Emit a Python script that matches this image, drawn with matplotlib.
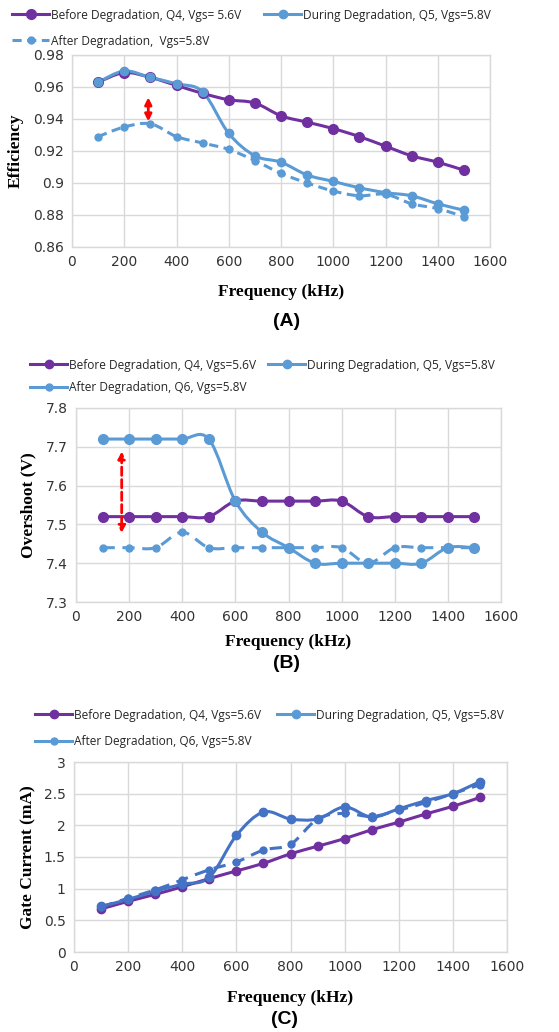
import matplotlib
matplotlib.use("Agg")
import matplotlib.pyplot as plt
from matplotlib.path import Path
from matplotlib.patches import PathPatch, FancyArrowPatch
from matplotlib.lines import Line2D
import numpy as np

freq = [100, 200, 300, 400, 500, 600, 700, 800, 900, 1000, 1100, 1200, 1300, 1400, 1500]

eff_before = [0.963, 0.969, 0.966, 0.961, 0.956, 0.952, 0.950, 0.942, 0.938, 0.934, 0.929, 0.923, 0.917, 0.913, 0.908]
eff_during = [0.963, 0.970, 0.966, 0.962, 0.957, 0.931, 0.917, 0.913, 0.905, 0.901, 0.897, 0.894, 0.892, 0.887, 0.883]
eff_after = [0.929, 0.935, 0.937, 0.929, 0.925, 0.921, 0.914, 0.906, 0.900, 0.895, 0.892, 0.893, 0.887, 0.884, 0.879]

ov_before = [7.52, 7.52, 7.52, 7.52, 7.52, 7.56, 7.56, 7.56, 7.56, 7.56, 7.52, 7.52, 7.52, 7.52, 7.52]
ov_during = [7.72, 7.72, 7.72, 7.72, 7.72, 7.56, 7.48, 7.44, 7.40, 7.40, 7.40, 7.40, 7.40, 7.44, 7.44]
ov_after = [7.44, 7.44, 7.44, 7.48, 7.44, 7.44, 7.44, 7.44, 7.44, 7.44, 7.40, 7.44, 7.44, 7.44, 7.44]

gc_before = [0.68, 0.80, 0.91, 1.03, 1.16, 1.28, 1.40, 1.55, 1.67, 1.79, 1.93, 2.05, 2.18, 2.30, 2.44]
gc_during = [0.72, 0.83, 0.96, 1.07, 1.18, 1.84, 2.21, 2.10, 2.10, 2.29, 2.13, 2.26, 2.39, 2.50, 2.69]
gc_after = [0.71, 0.85, 0.98, 1.14, 1.30, 1.42, 1.61, 1.70, 2.10, 2.19, 2.14, 2.24, 2.36, 2.50, 2.64]

leg_A = ["Before Degradation, Q4, Vgs= 5.6V", "During Degradation, Q5, Vgs=5.8V", "After Degradation,  Vgs=5.8V"]
leg_B = ["Before Degradation, Q4, Vgs=5.6V", "During Degradation, Q5, Vgs=5.8V", "After Degradation, Q6, Vgs=5.8V"]
leg_C = ["Before Degradation, Q4, Vgs=5.6V", "During Degradation, Q5, Vgs=5.8V", "After Degradation, Q6, Vgs=5.8V"]

PURPLE = "#7030A0"
BLUE = "#5B9BD5"
DBLUE = "#4472C4"
GRID = "#D9D9D9"

TICKFONT = "DejaVu Sans"
LEGFONT = "Open Sans"


def smooth_path(x, y):
    x = np.asarray(x, float)
    y = np.asarray(y, float)
    pts = np.column_stack([x, y])
    verts = [pts[0]]
    codes = [Path.MOVETO]
    n = len(pts)
    for i in range(n - 1):
        p0 = pts[i - 1] if i > 0 else pts[i]
        p1 = pts[i]
        p2 = pts[i + 1]
        p3 = pts[i + 2] if i + 2 < n else pts[i + 1]
        c1 = p1 + (p2 - p0) / 6.0
        c2 = p2 - (p3 - p1) / 6.0
        verts += [c1, c2, p2]
        codes += [Path.CURVE4] * 3
    return Path(verts, codes)


def draw_series(ax, x, y, color, ms, ls="-", lw=2.2, mcolor=None):
    p = PathPatch(smooth_path(x, y), fill=False, edgecolor=color, lw=lw,
                  linestyle=ls, capstyle="butt", joinstyle="round", zorder=3)
    ax.add_patch(p)
    ax.plot(x, y, linestyle="none", marker="o", ms=ms,
            color=mcolor or color, zorder=4)


def style_axes(ax, ylim, yticks):
    ax.set_xlim(0, 1600)
    ax.set_xticks(range(0, 1601, 200))
    ax.set_ylim(*ylim)
    ax.set_yticks(yticks)
    ax.set_yticklabels(["%g" % v for v in yticks])
    ax.grid(True, color=GRID, lw=1.0)
    ax.set_axisbelow(True)
    for s in ax.spines.values():
        s.set_color(GRID)
        s.set_linewidth(1.0)
    ax.tick_params(length=0, labelsize=10, pad=6)
    for lab in ax.get_xticklabels() + ax.get_yticklabels():
        lab.set_fontfamily(TICKFONT)
        lab.set_color("#333333")


fig = plt.figure(figsize=(5.59, 10.32), dpi=100)
H = 1032.0
W = 559.0


def axes_px(l, r, t, b):
    return fig.add_axes([l / W, 1 - b / H, (r - l) / W, (b - t) / H])


def legend_entry(label, color, ls, ms, x, y):
    h = Line2D([], [], color=color, lw=2.2, ls=ls, marker="o", ms=ms)
    leg = fig.legend([h], [label], loc="center left",
                     bbox_to_anchor=(x / W, 1 - y / H), frameon=False,
                     handlelength=3.1, handletextpad=0.15, borderpad=0,
                     borderaxespad=0, numpoints=1,
                     prop={"family": LEGFONT, "size": 8.6})
    for t in leg.get_texts():
        t.set_color("#262626")


def add_legend(labels, styles, pos):
    for lab, st, p in zip(labels, styles, pos):
        legend_entry(lab, st[0], st[1], st[2], p[0], p[1])


# ---------- Panel A ----------
axA = axes_px(72, 490, 55, 247)
style_axes(axA, (0.86, 0.98), [0.86, 0.88, 0.90, 0.92, 0.94, 0.96, 0.98])
draw_series(axA, freq, eff_before, PURPLE, 7)
draw_series(axA, freq, eff_during, BLUE, 6)
draw_series(axA, freq, eff_after, BLUE, 5, ls=(0, (3, 1.8)))
axA.add_patch(FancyArrowPatch((292, 0.9385), (292, 0.9535), arrowstyle="<|-|>",
                              mutation_scale=10, color="red", lw=2, zorder=5,
                              shrinkA=0, shrinkB=0))
add_legend(leg_A, [(PURPLE, "-", 7), (BLUE, "-", 6), (BLUE, (0, (3, 1.8)), 5)],
           [(12, 15), (264, 15), (12, 41)])
fig.text(281 / W, 1 - 292 / H, "Frequency (kHz)", ha="center", va="center",
         family="Liberation Serif", weight="bold", size=12.5)
fig.text(16 / W, 1 - 151 / H, "Efficiency", ha="center", va="center", rotation=90,
         family="Liberation Serif", weight="bold", size=12.5)
fig.text(287 / W, 1 - 322 / H, "(A)", ha="center", va="center",
         family="Liberation Sans", weight="bold", size=14)

# ---------- Panel B ----------
axB = axes_px(76, 501, 408, 602)
style_axes(axB, (7.3, 7.8), [7.3, 7.4, 7.5, 7.6, 7.7, 7.8])
draw_series(axB, freq, ov_before, PURPLE, 7)
draw_series(axB, freq, ov_during, BLUE, 7)
draw_series(axB, freq, ov_after, BLUE, 5, ls=(0, (4, 2.5)))
axB.add_patch(FancyArrowPatch((172, 7.688), (172, 7.478), arrowstyle="<|-|>",
                              mutation_scale=10, color="red", lw=2, ls=(0, (3, 1.5)),
                              zorder=5, shrinkA=0, shrinkB=0))
add_legend(leg_B, [(PURPLE, "-", 6), (BLUE, "-", 6), (BLUE, "-", 5)],
           [(30, 365), (268, 365), (30, 388)])
fig.text(288 / W, 1 - 642 / H, "Frequency (kHz)", ha="center", va="center",
         family="Liberation Serif", weight="bold", size=12.5)
fig.text(28 / W, 1 - 505 / H, "Overshoot (V)", ha="center", va="center", rotation=90,
         family="Liberation Serif", weight="bold", size=12.5)
fig.text(287 / W, 1 - 664 / H, "(B)", ha="center", va="center",
         family="Liberation Sans", weight="bold", size=14)

# ---------- Panel C ----------
axC = axes_px(74, 507, 762, 952)
style_axes(axC, (0, 3), [0, 0.5, 1, 1.5, 2, 2.5, 3])
draw_series(axC, freq, gc_before, PURPLE, 6)
draw_series(axC, freq, gc_during, DBLUE, 6)
draw_series(axC, freq, gc_after, DBLUE, 5, ls=(0, (4, 2.5)))
add_legend(leg_C, [(PURPLE, "-", 6), (BLUE, "-", 6), (BLUE, "-", 5)],
           [(35, 715), (277, 715), (35, 742)])
fig.text(290 / W, 1 - 998 / H, "Frequency (kHz)", ha="center", va="center",
         family="Liberation Serif", weight="bold", size=12.5)
fig.text(28 / W, 1 - 857 / H, "Gate Current (mA)", ha="center", va="center", rotation=90,
         family="Liberation Serif", weight="bold", size=12.5)
fig.text(284 / W, 1 - 1020 / H, "(C)", ha="center", va="center",
         family="Liberation Sans", weight="bold", size=14)

fig.savefig("out.png", dpi=100)
